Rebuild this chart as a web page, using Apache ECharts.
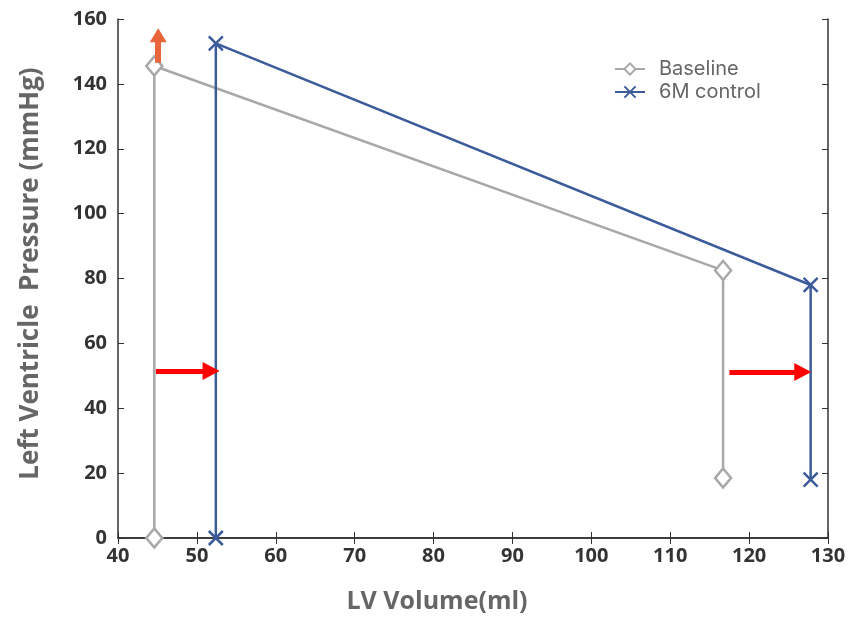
<!DOCTYPE html>
<html>
<head>
<meta charset="utf-8">
<script src="https://cdn.jsdelivr.net/npm/echarts@6/dist/echarts.min.js"></script>
<style>
  html, body { margin: 0; padding: 0; background: #fff; }
  #chart { width: 851px; height: 619px; }
</style>
</head>
<body>
<div id="chart"></div>
<script>
// values: [LV volume (ml), pressure (mmHg)]
const baselinePoints = [[44.6, 0], [44.6, 145.5], [116.7, 82.5], [116.7, 18.5]];
const controlPoints = [[52.4, 0], [52.4, 152.5], [127.8, 78], [127.8, 18]];

// annotation arrows: [from, to]
const redArrows = [
  [[44.8, 51.5], [51.8, 51.5]],
  [[117.5, 51.2], [126.8, 51.2]]
];
const orangeArrows = [
  [[45.1, 146.5], [45.1, 155]]
];

const xTicks = { min: 40, max: 130, interval: 10 };
const yTicks = { min: 0, max: 160, interval: 20 };

const gray = '#a8a8a8';
const blue = '#3b5b9b';
const xMark = 'path://M0,0L10,10M10,0L0,10';

const chart = echarts.init(document.getElementById('chart'));

const tickLabel = {
  color: '#333',
  fontWeight: 'bold',
  fontSize: 20,
  fontFamily: 'Open Sans'
};

function arrowLines(list) {
  return list.map(a => [{ coord: a[0] }, { coord: a[1] }]);
}

const option = {
  animation: false,
  grid: { left: 118, right: 23, top: 19, bottom: 77 },
  legend: {
    orient: 'vertical',
    left: 609,
    top: 54,
    itemGap: 3,
    itemWidth: 30,
    itemHeight: 14,
    textStyle: { color: '#666', fontSize: 20, fontFamily: 'Inter', padding: [0, 0, 0, 9] },
    data: ['Baseline', '6M control']
  },
  xAxis: [{
    type: 'value',
    min: xTicks.min, max: xTicks.max, interval: xTicks.interval,
    name: 'LV Volume(ml)',
    nameLocation: 'middle',
    nameGap: 51,
    nameTextStyle: { color: '#666', fontWeight: 'bold', fontSize: 25, fontFamily: 'Open Sans', padding: [0, 72, 0, 0] },
    axisLine: { lineStyle: { color: '#333', width: 1.5 } },
    axisTick: { inside: true, length: 6, lineStyle: { color: '#333' } },
    axisLabel: Object.assign({ margin: 8 }, tickLabel),
    splitLine: { show: false }
  }, {
    type: 'value', position: 'top',
    min: xTicks.min, max: xTicks.max, interval: xTicks.interval,
    axisLine: { lineStyle: { color: '#333', width: 1.5 } },
    axisTick: { inside: true, length: 6, lineStyle: { color: '#333' } },
    axisLabel: { show: false },
    splitLine: { show: false }
  }],
  yAxis: [{
    type: 'value',
    min: yTicks.min, max: yTicks.max, interval: yTicks.interval,
    name: 'Left Ventricle  Pressure (mmHg)',
    nameLocation: 'middle',
    nameGap: 74,
    nameTextStyle: { color: '#666', fontWeight: 'bold', fontSize: 26, fontFamily: 'Open Sans', padding: [0, 0, 0, 10] },
    axisLine: { show: true, lineStyle: { color: '#333', width: 1.5 } },
    axisTick: { show: true, inside: true, length: 6, lineStyle: { color: '#333' } },
    axisLabel: Object.assign({ margin: 11 }, tickLabel),
    splitLine: { show: false }
  }, {
    type: 'value', position: 'right',
    min: yTicks.min, max: yTicks.max, interval: yTicks.interval,
    axisLine: { show: true, lineStyle: { color: '#333', width: 1.5 } },
    axisTick: { show: true, inside: true, length: 6, lineStyle: { color: '#333' } },
    axisLabel: { show: false },
    splitLine: { show: false }
  }],
  series: [
    {
      name: 'Baseline',
      type: 'line',
      data: baselinePoints,
      symbol: 'diamond',
      symbolSize: [16, 19],
      lineStyle: { color: gray, width: 2.5 },
      itemStyle: { color: '#fff', borderColor: gray, borderWidth: 2.5 },
      z: 3
    },
    {
      name: '6M control',
      type: 'line',
      data: controlPoints,
      symbol: xMark,
      symbolSize: 14,
      lineStyle: { color: blue, width: 2.5 },
      itemStyle: { color: 'none', borderColor: blue, borderWidth: 2.5 },
      z: 4
    },
    {
      name: 'arrows',
      type: 'line',
      data: [],
      silent: true,
      markLine: {
        silent: true,
        symbol: ['none', 'triangle'],
        symbolSize: [18, 17],
        label: { show: false },
        lineStyle: { color: '#ff0000', width: 5, type: 'solid' },
        data: arrowLines(redArrows)
      },
      z: 5
    },
    {
      name: 'up arrow',
      type: 'line',
      data: [],
      silent: true,
      markLine: {
        silent: true,
        symbol: ['none', 'triangle'],
        symbolSize: [17, 14],
        label: { show: false },
        lineStyle: { color: '#e9663c', width: 6, type: 'solid' },
        data: arrowLines(orangeArrows)
      },
      z: 5
    }
  ]
};

chart.setOption(option);
</script>
</body>
</html>
